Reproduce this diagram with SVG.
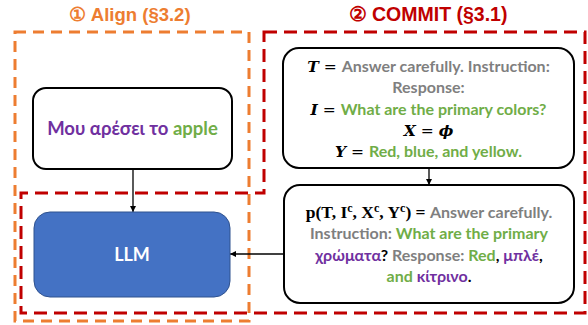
<svg xmlns="http://www.w3.org/2000/svg" width="588" height="325" viewBox="0 0 588 325">
  <style>
    .title { font-family: "Liberation Sans", Arial, sans-serif; font-weight: bold; font-size: 18.5px; text-anchor: middle; }
    .body { font-family: Lato, "Open Sans", "Noto Sans", sans-serif; font-weight: bold; font-size: 16px; text-anchor: middle; fill: #000; }
    .mi { font-family: "DejaVu Serif", "Liberation Serif", serif; font-style: italic; font-weight: bold; font-size: 15.5px; }
    .mr { font-family: "DejaVu Serif", "Liberation Serif", serif; font-weight: normal; font-size: 15.5px; }
    .mb { font-family: "Liberation Serif", "DejaVu Serif", serif; font-weight: bold; font-size: 17.5px; }
    .sup { font-family: "Liberation Serif", "DejaVu Serif", serif; font-weight: bold; font-size: 12px; }
    .gy { fill: #7F7F7F; }
    .gn { fill: #70AD47; }
    .pu { fill: #7030A0; }
    .node { fill: #FFFFFF; stroke: #000000; stroke-width: 2; }
    .llm { fill: #4472C4; stroke: #2F528F; stroke-width: 1; }
    .edge { fill: none; stroke: #000000; stroke-width: 1.3; }
  </style>
  <defs>
    <marker id="arrow" viewBox="0 0 10 10" refX="10" refY="5" markerWidth="6" markerHeight="6" orient="auto" markerUnits="userSpaceOnUse">
      <path d="M0,0 L10,5 L0,10 z" fill="#000"/>
    </marker>
  </defs>

  <!-- stage regions -->
  <g id="align-region">
    <rect x="15" y="32" width="234" height="289" fill="none" stroke="#ED7D31" stroke-width="3" stroke-dasharray="11 7"/>
    <text class="title" x="130" y="21" fill="#ED7D31">① Align (§3.2)</text>
  </g>
  <g id="commit-region">
    <path d="M264,32 H585 V313 H21 V193 H264 Z" fill="none" stroke="#C00000" stroke-width="3" stroke-dasharray="13 7"/>
    <text class="title" x="428" y="21" fill="#C00000" style="font-size:19.5px">② COMMIT (§3.1)</text>
  </g>

  <!-- connectors -->
  <g id="connectors">
    <line class="edge" x1="133" y1="169" x2="133" y2="212" marker-end="url(#arrow)"/>
    <line class="edge" x1="429" y1="168" x2="429" y2="185" marker-end="url(#arrow)"/>
    <line class="edge" x1="284" y1="254" x2="230" y2="254" marker-end="url(#arrow)"/>
  </g>

  <g id="input-sentence">
    <rect class="node" x="33" y="88" width="199" height="81" rx="13"/>
    <text class="body" x="132.5" y="135" style="font-size:18.5px"><tspan class="pu">Μου αρέσει το </tspan><tspan class="gn">apple</tspan></text>
  </g>

  <g id="llm">
    <rect class="llm" x="34" y="212" width="196" height="85" rx="16"/>
    <text class="body" x="132" y="261" style="font-size:18px;fill:#FFFFFF">LLM</text>
  </g>

  <g id="template">
    <rect class="node" x="283" y="48" width="291" height="120" rx="16"/>
    <text class="body" x="428.5" y="72"><tspan class="mi">T</tspan><tspan class="mr"> = </tspan><tspan class="gy">Answer carefully. Instruction:</tspan></text>
    <text class="body gy" x="428.5" y="93">Response:</text>
    <text class="body" x="428.5" y="115"><tspan class="mi">I</tspan><tspan class="mr"> = </tspan><tspan class="gn">What are the primary colors?</tspan></text>
    <text class="body" x="428.5" y="136"><tspan class="mi">X</tspan><tspan class="mr"> = </tspan><tspan class="mi">ϕ</tspan></text>
    <text class="body" x="428.5" y="157"><tspan class="mi">Y</tspan><tspan class="mr"> = </tspan><tspan class="gn">Red, blue, and yellow.</tspan></text>
  </g>

  <g id="code-switched-prompt">
    <rect class="node" x="284" y="185" width="290" height="118" rx="16"/>
    <text class="body" x="429" y="218"><tspan class="mb">p(T, I</tspan><tspan class="sup" dy="-6">c</tspan><tspan class="mb" dy="6">, X</tspan><tspan class="sup" dy="-6">c</tspan><tspan class="mb" dy="6">, Y</tspan><tspan class="sup" dy="-6">c</tspan><tspan class="mb" dy="6">) = </tspan><tspan class="gy">Answer carefully.</tspan></text>
    <text class="body" x="429" y="239"><tspan class="gy">Instruction: </tspan><tspan class="gn">What are the primary</tspan></text>
    <text class="body" x="429" y="261"><tspan class="pu">χρώματα</tspan>? <tspan class="gy">Response: </tspan><tspan class="gn">Red</tspan>, <tspan class="pu">μπλέ</tspan>,</text>
    <text class="body" x="429" y="282"><tspan class="gn">and </tspan><tspan class="pu">κίτρινο</tspan>.</text>
  </g>
</svg>
